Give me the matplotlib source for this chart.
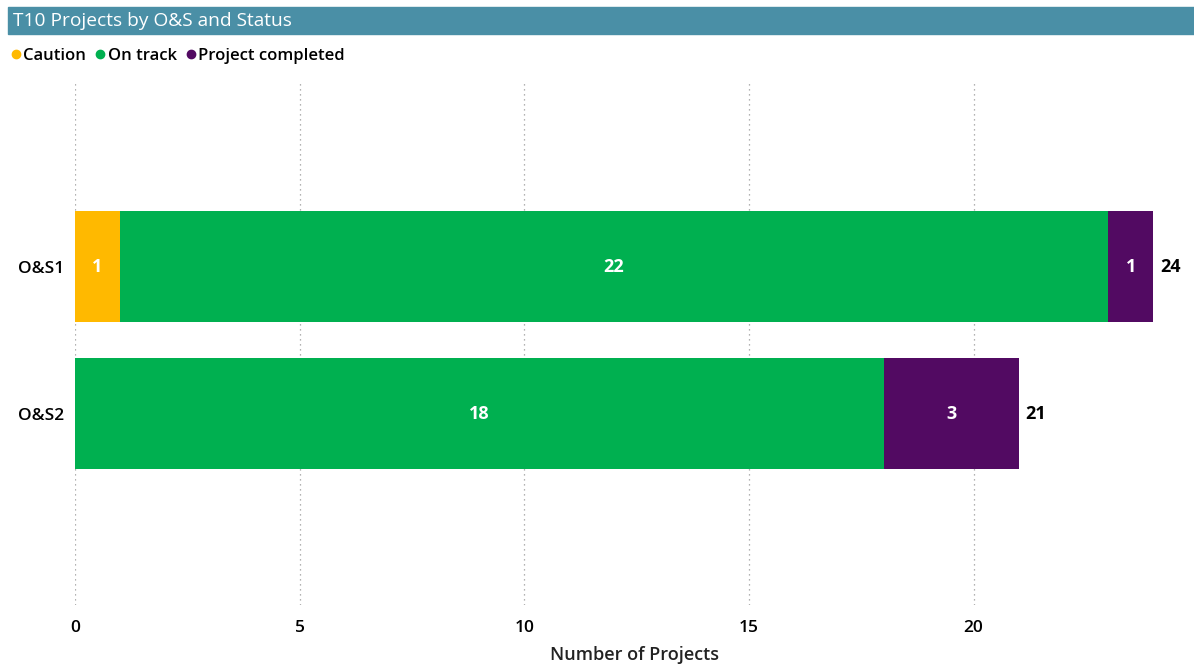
import matplotlib
matplotlib.use("Agg")
import matplotlib.pyplot as plt
from matplotlib.patches import Rectangle
from matplotlib.lines import Line2D
import numpy as np

categories = ["O&S1", "O&S2"]
statuses = ["Caution", "On track", "Project completed"]
caution = [1, 0]
on_track = [22, 18]
completed = [1, 3]
xticks = [0, 5, 10, 15, 20]

colors = ["#FFB900", "#00B050", "#520A62"]
series = [caution, on_track, completed]

plt.rcParams['font.family'] = ['Open Sans', 'DejaVu Sans']
fig = plt.figure(figsize=(11.94, 6.67), dpi=100)
ax = fig.add_axes([0.0628, 0.093, 0.937, 0.787])

y = np.arange(len(categories))
left = np.zeros(len(categories))
for vals, col in zip(series, colors):
    vals = np.array(vals, dtype=float)
    ax.barh(y, vals, left=left, height=0.755, color=col, edgecolor='none')
    for yi, (l, v) in enumerate(zip(left, vals)):
        if v > 0:
            ax.text(l + v / 2, yi, f"{int(v)}", ha='center', va='center',
                    color='white', fontsize=13, fontweight='bold')
    left += vals
for yi, tot in enumerate(left):
    ax.text(tot + 0.15, yi, f"{int(tot)}", ha='left', va='center',
            color='black', fontsize=13, fontweight='bold')

ax.set_xlim(0, 24.9)
ax.set_ylim(2.30, -1.272)
ax.set_yticks(y)
ax.set_yticklabels(categories, fontsize=12.5, fontweight='semibold')
ax.set_xticks(xticks)
ax.set_xticklabels([str(t) for t in xticks], fontsize=12.5, fontweight='semibold')
ax.tick_params(length=0, pad=8)
ax.tick_params(axis='x', pad=11)
ax.grid(axis='x', linestyle=(0, (1, 3)), color='#999999', linewidth=0.9)
ax.set_axisbelow(True)
for s in ax.spines.values():
    s.set_visible(False)
ax.set_xlabel("Number of Projects", fontsize=13, fontweight='semibold', color='#222222', labelpad=7)

# title bar
fig.patches.append(Rectangle((8 / 1194, 1 - 34 / 667), 1 - 8 / 1194, 27 / 667,
                             transform=fig.transFigure, color='#4A8FA6', zorder=0))
fig.text(13 / 1194, 1 - 21 / 667, "T10 Projects by O&S and Status", color='white',
         fontsize=13.8, va='center', ha='left')

handles = [Line2D([], [], marker='o', linestyle='none', markersize=6,
                  markerfacecolor=c, markeredgecolor=c) for c in colors]
leg = fig.legend(handles, statuses, loc='center left', bbox_to_anchor=(8 / 1194, 1 - 56 / 667),
                 ncol=3, frameon=False, handletextpad=0.0,
                 prop={'size': 12, 'weight': 'semibold'},
                 columnspacing=0.4, handlelength=0.9, borderaxespad=0, borderpad=0)

fig.savefig("out.png", dpi=100)
